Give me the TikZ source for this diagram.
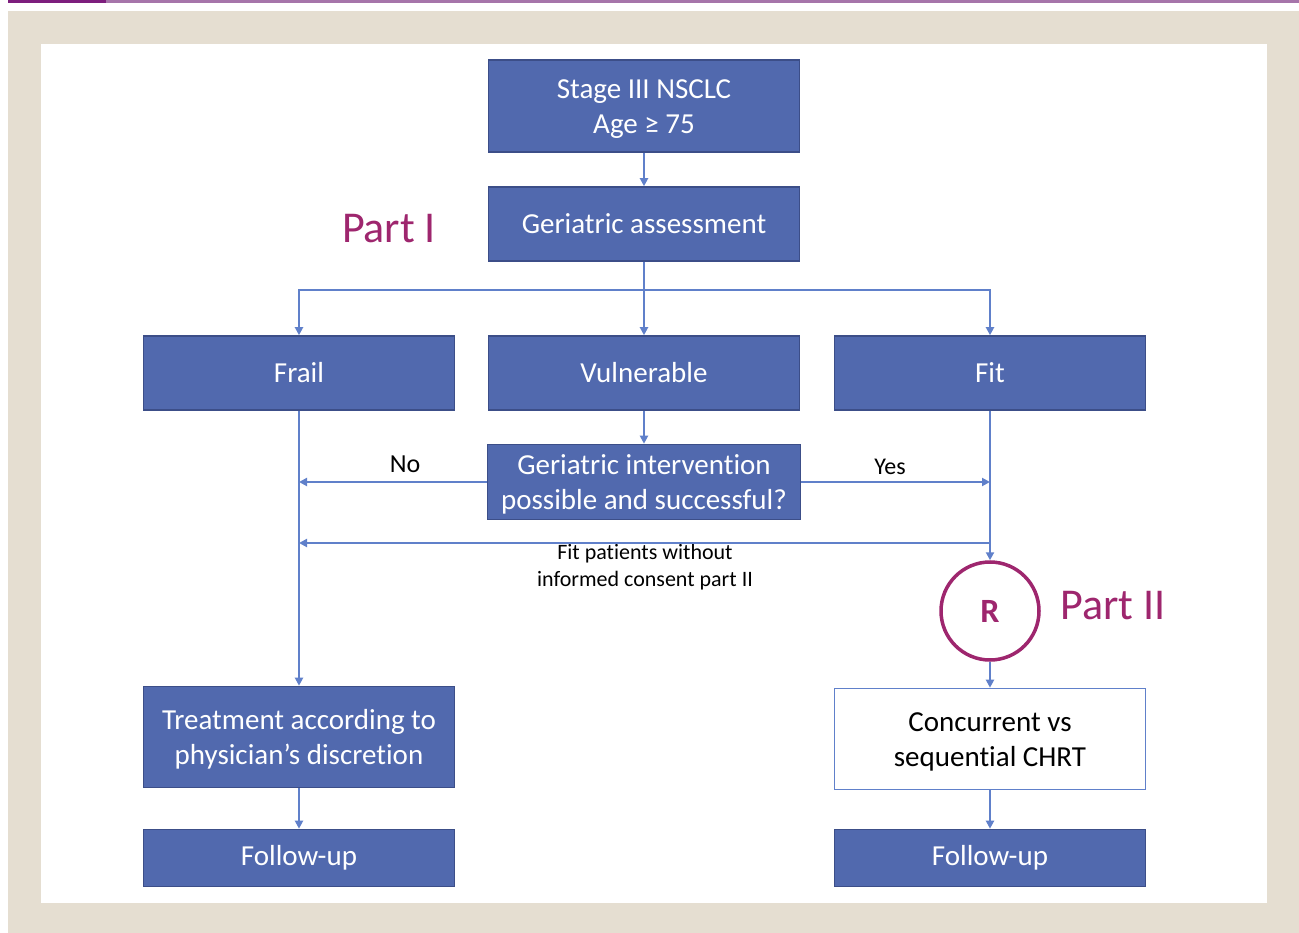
\documentclass[tikz,border=0pt]{standalone}
\usepackage{fontspec}
\setmainfont{Carlito}[Ligatures=NoCommon]
\usepackage{tikz}
\usetikzlibrary{arrows.meta}

\definecolor{boxblue}{RGB}{81,105,174}
\definecolor{boxedge}{RGB}{60,78,136}
\definecolor{linkblue}{RGB}{96,128,202}
\definecolor{partpurple}{RGB}{158,38,110}
\definecolor{panelbeige}{RGB}{229,222,209}
\definecolor{bardark}{RGB}{125,30,125}
\definecolor{barlight}{RGB}{166,117,170}

\begin{document}
\begin{tikzpicture}[x=1pt,y=-1pt]
\tikzstyle{box}=[draw=boxedge,line width=1.6pt,fill=boxblue,text=white,align=center,
  minimum width=311pt,font=\fontsize{29}{35}\selectfont]
\tikzstyle{whitebox}=[box,draw=linkblue,fill=white,text=black]
\tikzstyle{link}=[draw=linkblue,line width=2pt,-{Triangle[length=8pt,width=8pt]}]
\tikzstyle{part}=[text=partpurple,font=\fontsize{44}{44}\selectfont]

\useasboundingbox (0,0) rectangle (1299,933);
\fill[white] (0,0) rectangle (1299,933);
\fill[bardark] (8,0) rectangle (106,3);
\fill[barlight] (106,0) rectangle (1299,3);
\fill[panelbeige] (8,11) rectangle (1299,933);
\fill[white] (41,44) rectangle (1267,903);

\node[box,minimum height=92pt] (stage) at (644,106) {\strut Stage III NSCLC\\Age ≥ 75};
\node[box,minimum height=74pt] (assess) at (644,224) {Geriatric assessment};
\node[part] (part1) at (389,229) {Part I};

\node[box,minimum height=74pt] (frail) at (299,373) {Frail};
\node[box,minimum height=74pt] (vuln) at (644,373) {Vulnerable};
\node[box,minimum height=74pt] (fit) at (990,373) {Fit};

\node[box,minimum height=75pt,minimum width=313pt] (interv) at (644,482)
  {\strut Geriatric intervention\\possible and successful?};
\node[font=\fontsize{26}{26}\selectfont] (no) at (405,464) {No};
\node[font=\fontsize{24}{24}\selectfont] (yes) at (890,467) {Yes};

\coordinate (split) at (644,290);
\coordinate (consent) at (990,543);
\node[align=center,font=\fontsize{22}{27}\selectfont] (consentlbl) at (645,567)
  {Fit patients without\\informed consent part II};

\node[draw=partpurple,line width=3.5pt,circle,minimum size=98pt,
  font=\bfseries\fontsize{34}{34}\selectfont,text=partpurple] (rand) at (990,611) {R};
\node[part] (part2) at (1113,606) {Part II};

\node[box,minimum height=101pt] (treat) at (299,737)
  {\strut Treatment according to\\physician’s discretion};
\node[whitebox,minimum height=101pt] (conc) at (990,739)
  {\strut Concurrent vs\\sequential CHRT};
\node[box,minimum height=57pt] (follow1) at (299,858) {Follow-up};
\node[box,minimum height=57pt] (follow2) at (990,858) {Follow-up};

\draw[link] (stage) -- (assess);
\draw[link] (assess) -- (vuln);
\draw[link] (split) -| (frail);
\draw[link] (split) -| (fit);
\draw[link] (vuln) -- (interv);
\draw[link] (interv) -- (interv -| frail);
\draw[link] (interv) -- (interv -| fit);
\draw[link] (frail) -- (treat);
\draw[link] (fit) -- (rand);
\draw[link] (consent) -- (consent -| frail);
\draw[link] (rand) -- (conc);
\draw[link] (treat) -- (follow1);
\draw[link] (conc) -- (follow2);
\end{tikzpicture}
\end{document}
